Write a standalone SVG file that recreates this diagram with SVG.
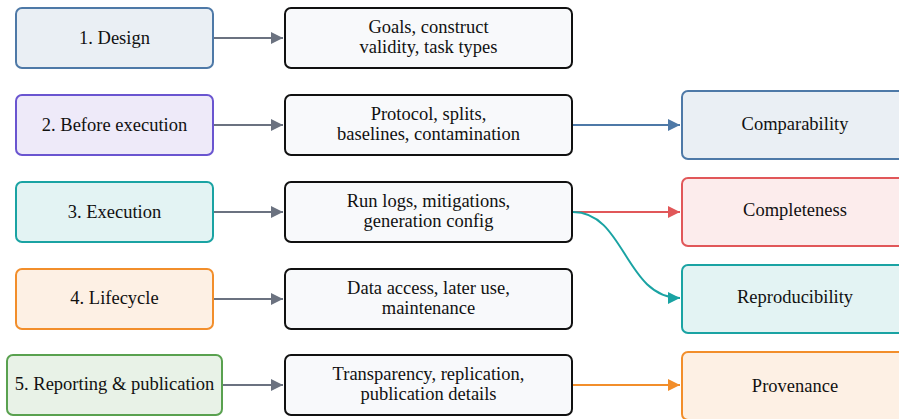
<svg xmlns="http://www.w3.org/2000/svg" width="899" height="419" viewBox="0 0 899 419" font-family="Liberation Serif, Times New Roman, serif">
<style>
text{font-size:18.5px;fill:#111;text-anchor:middle;dominant-baseline:central}
.b{stroke-width:2}
.mid{fill:#f8f9fb;stroke:#111;stroke-width:2}
.c{fill:none;stroke-width:2}
</style>
<defs>
<marker id="ag" viewBox="0 0 10 10" refX="10" refY="5" markerWidth="6" markerHeight="6" markerUnits="strokeWidth" orient="auto"><path d="M0,0L10,5L0,10z" fill="#6b7280"/></marker>
<marker id="ab" viewBox="0 0 10 10" refX="10" refY="5" markerWidth="6" markerHeight="6" markerUnits="strokeWidth" orient="auto"><path d="M0,0L10,5L0,10z" fill="#4e79a7"/></marker>
<marker id="ar" viewBox="0 0 10 10" refX="10" refY="5" markerWidth="6" markerHeight="6" markerUnits="strokeWidth" orient="auto"><path d="M0,0L10,5L0,10z" fill="#e15759"/></marker>
<marker id="at" viewBox="0 0 10 10" refX="10" refY="5" markerWidth="6" markerHeight="6" markerUnits="strokeWidth" orient="auto"><path d="M0,0L10,5L0,10z" fill="#1aa3a3"/></marker>
<marker id="ao" viewBox="0 0 10 10" refX="10" refY="5" markerWidth="6" markerHeight="6" markerUnits="strokeWidth" orient="auto"><path d="M0,0L10,5L0,10z" fill="#f28e2b"/></marker>
</defs>
<g id="connectors">
<path class="c" d="M213,38H283" stroke="#6b7280" marker-end="url(#ag)"/>
<path class="c" d="M213,125H283" stroke="#6b7280" marker-end="url(#ag)"/>
<path class="c" d="M213,212H283" stroke="#6b7280" marker-end="url(#ag)"/>
<path class="c" d="M213,299H283" stroke="#6b7280" marker-end="url(#ag)"/>
<path class="c" d="M222,385H283" stroke="#6b7280" marker-end="url(#ag)"/>
<path class="c" d="M573,125H680" stroke="#4e79a7" marker-end="url(#ab)"/>
<path class="c" d="M573,212H680" stroke="#e15759" marker-end="url(#ar)"/>
<path class="c" d="M573,212C625,212 625,298 680,298" stroke="#1aa3a3" marker-end="url(#at)"/>
<path class="c" d="M573,385H680" stroke="#f28e2b" marker-end="url(#ao)"/>
</g>
<g id="design"><rect class="b" x="16" y="8" width="197" height="60" rx="6" fill="#eaeff4" stroke="#4e79a7"/><text x="114.5" y="37.5">1. Design</text></g>
<g id="before"><rect class="b" x="16" y="95" width="197" height="60" rx="6" fill="#eeeaf9" stroke="#6a55d0"/><text x="114.5" y="124.5">2. Before execution</text></g>
<g id="execution"><rect class="b" x="16" y="182" width="197" height="60" rx="6" fill="#e3f3f3" stroke="#1aa3a3"/><text x="114.5" y="211.5">3. Execution</text></g>
<g id="lifecycle"><rect class="b" x="16" y="269" width="197" height="60" rx="6" fill="#fdf0e4" stroke="#f28e2b"/><text x="114.5" y="298">4. Lifecycle</text></g>
<g id="reporting"><rect class="b" x="7" y="355" width="215" height="60" rx="6" fill="#e8f2e7" stroke="#59a14f"/><text x="114.5" y="384">5. Reporting &amp; publication</text></g>
<g id="goals"><rect class="mid" x="285" y="8" width="287" height="60" rx="6"/><text x="428.5" y="27">Goals, construct</text><text x="428.5" y="47">validity, task types</text></g>
<g id="protocol"><rect class="mid" x="285" y="95" width="287" height="60" rx="6"/><text x="428.5" y="114">Protocol, splits,</text><text x="428.5" y="134">baselines, contamination</text></g>
<g id="runlogs"><rect class="mid" x="285" y="182" width="287" height="60" rx="6"/><text x="428.5" y="201">Run logs, mitigations,</text><text x="428.5" y="221">generation config</text></g>
<g id="dataaccess"><rect class="mid" x="285" y="269" width="287" height="60" rx="6"/><text x="428.5" y="288">Data access, later use,</text><text x="428.5" y="308">maintenance</text></g>
<g id="transparency"><rect class="mid" x="285" y="355" width="287" height="60" rx="6"/><text x="428.5" y="374">Transparency, replication,</text><text x="428.5" y="394">publication details</text></g>
<g id="comparability"><rect class="b" x="682" y="91" width="240" height="68" rx="6" fill="#eaeff4" stroke="#4e79a7"/><text x="795" y="124">Comparability</text></g>
<g id="completeness"><rect class="b" x="682" y="178" width="240" height="68" rx="6" fill="#fcecec" stroke="#e15759"/><text x="795" y="210">Completeness</text></g>
<g id="reproducibility"><rect class="b" x="682" y="265" width="240" height="68" rx="6" fill="#e3f3f3" stroke="#1aa3a3"/><text x="795" y="297">Reproducibility</text></g>
<g id="provenance"><rect class="b" x="682" y="352" width="240" height="68" rx="6" fill="#fdf0e4" stroke="#f28e2b"/><text x="795" y="386">Provenance</text></g>
</svg>
